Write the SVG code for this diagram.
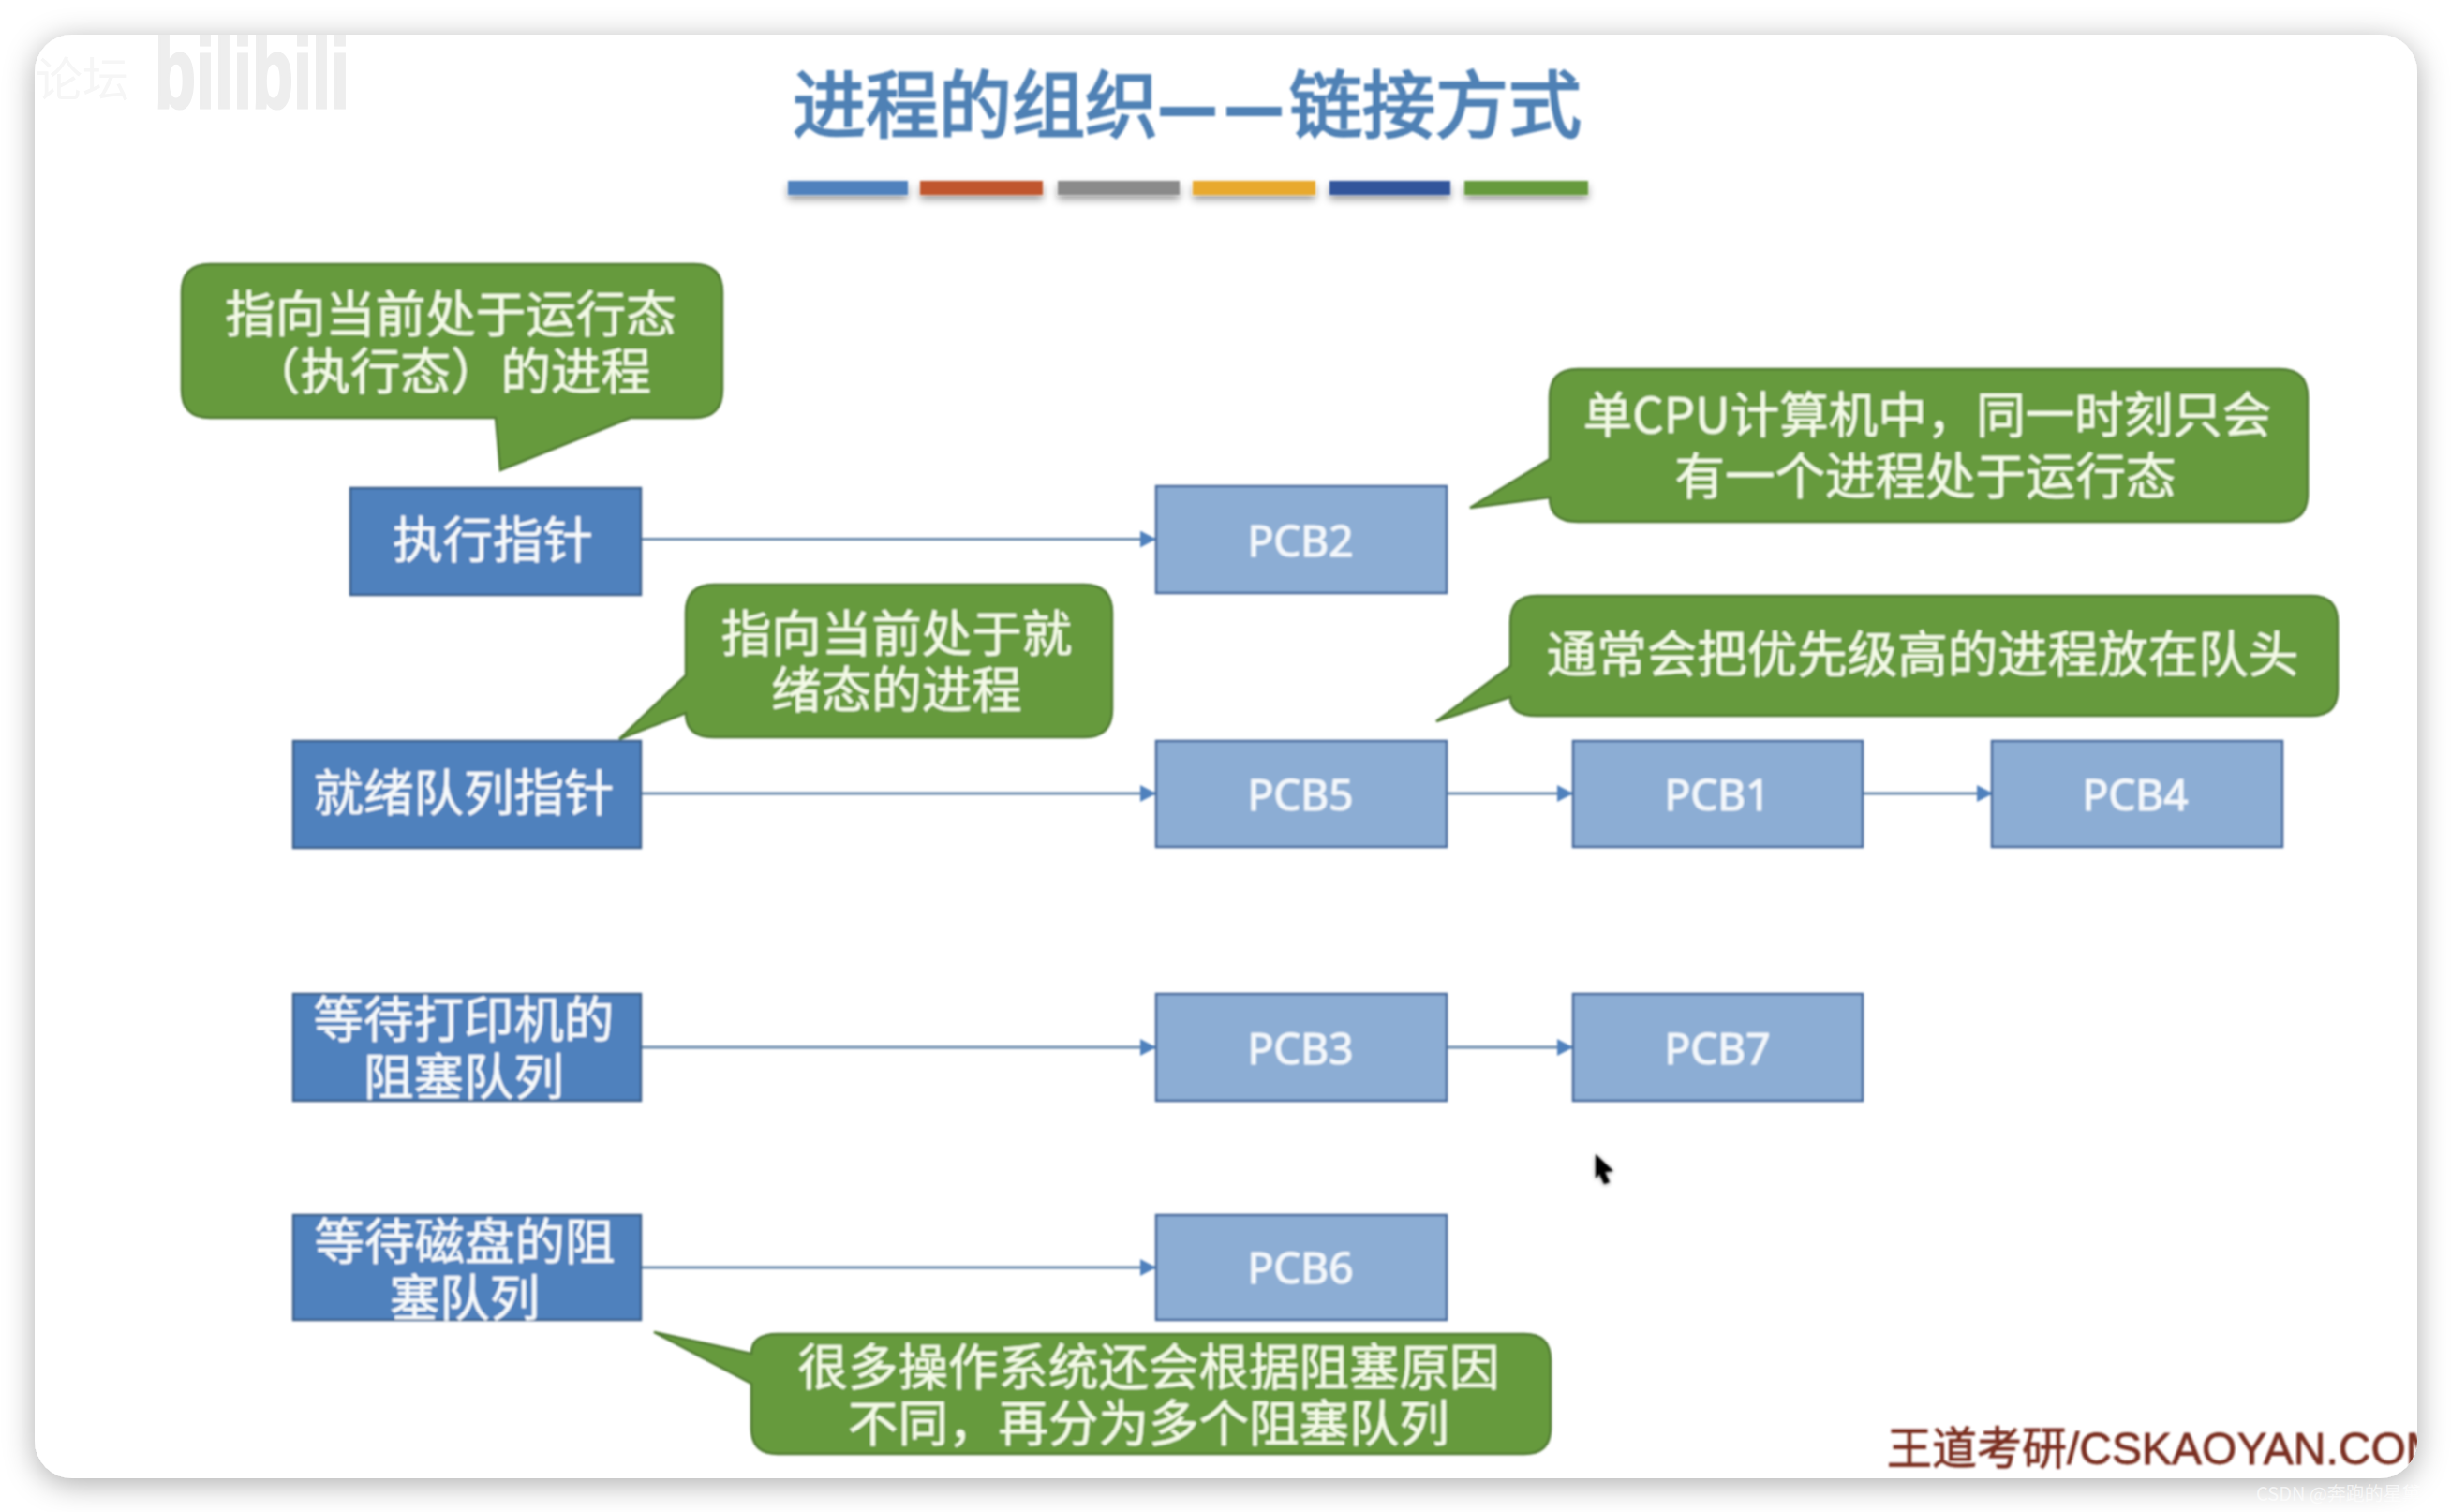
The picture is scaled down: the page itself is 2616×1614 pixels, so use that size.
<svg xmlns="http://www.w3.org/2000/svg" width="2616" height="1614" viewBox="0 0 2616 1614">
<style>
text{font-family:"Noto Sans CJK SC","Noto Sans",sans-serif;text-anchor:middle}
.ptr{fill:#4f81bd;stroke:#3a5f8a;stroke-width:2.5}
.pcb{fill:#8cadd4;stroke:#42669a;stroke-width:2.5}
.call{fill:#669a3c;stroke:#4f7a31;stroke-width:2.5}
.tw{fill:#f6f9fb;font-size:53.5px;stroke:#f6f9fb;stroke-width:.5}
.tg{fill:#f3fae6;font-size:53.5px;stroke:#f3fae6;stroke-width:.5}
.tp{fill:#f3f7fb;font-family:"Noto Sans",sans-serif;font-size:46px;stroke:#f3f7fb;stroke-width:1.1}
.tt{text-anchor:start;font-size:78px;fill:#4f81b5;stroke:#4f81b5;stroke-width:2.4}
.dash{font-size:66px;stroke-width:6}
.edge{stroke:#6d8cae;stroke-width:3;fill:none;marker-end:url(#arrow)}
.bar{filter:url(#barshadow)}
</style>
<defs>
<marker id="arrow" markerUnits="userSpaceOnUse" markerWidth="17" markerHeight="18" refX="17" refY="9" orient="auto"><path d="M0,0 L17,9 L0,18 Z" fill="#4f81bd"/></marker>
<filter id="panelshadow" x="-5%" y="-5%" width="110%" height="110%"><feDropShadow dx="0" dy="6" stdDeviation="16" flood-color="#000" flood-opacity=".32"/></filter>
<filter id="barshadow" x="-10%" y="-50%" width="120%" height="250%"><feDropShadow dx="0" dy="5" stdDeviation="4" flood-color="#000" flood-opacity=".4"/></filter>
<filter id="soft" x="0" y="0" width="2616" height="1614" filterUnits="userSpaceOnUse"><feGaussianBlur stdDeviation=".9"/></filter>
<filter id="halo" x="-50%" y="-50%" width="200%" height="200%"><feDropShadow dx="0" dy="1" stdDeviation="2" flood-color="#000" flood-opacity=".5"/></filter>
<clipPath id="panelclip"><rect x="37" y="37" width="2543" height="1541" rx="40"/></clipPath>
</defs>
<rect width="2616" height="1614" fill="#fff"/>
<rect id="panel" x="37" y="37" width="2543" height="1541" rx="40" fill="#fff" filter="url(#panelshadow)"/>
<text x="2408" y="1602" style="text-anchor:start;font-size:20px;fill:#fff;fill-opacity:.65">CSDN @奔跑的星黛</text>
<g clip-path="url(#panelclip)">
<g id="watermark">
<text x="269" y="115" textLength="208" lengthAdjust="spacingAndGlyphs" style="font-family:'Liberation Sans',sans-serif;font-weight:700;font-size:107px;fill:#eeeeee;stroke:#eeeeee;stroke-width:3">bilibili</text>
<text x="88" y="103" style="font-size:50px;fill:#f6f6f6">论坛</text>
</g>
<g filter="url(#soft)">
<g id="title">
<text class="tt" x="846" y="141">进程的组织</text>
<text class="tt dash" x="1238" y="138">—</text>
<text class="tt dash" x="1309" y="138">—</text>
<text class="tt" x="1376" y="141">链接方式</text>
<rect class="bar" x="841" y="193" width="128" height="15" fill="#4f81bd"/>
<rect class="bar" x="982" y="193" width="131" height="15" fill="#c0562f"/>
<rect class="bar" x="1129" y="193" width="130" height="15" fill="#8a8a8a"/>
<rect class="bar" x="1273" y="193" width="131" height="15" fill="#e8a92f"/>
<rect class="bar" x="1419" y="193" width="129" height="15" fill="#33549b"/>
<rect class="bar" x="1563" y="193" width="132" height="15" fill="#669a3c"/>
</g>
<g id="connectors">
<path class="edge" d="M685,575.5 H1234"/>
<path class="edge" d="M685,847 H1234"/>
<path class="edge" d="M1545,847 H1679"/>
<path class="edge" d="M1989,847 H2127"/>
<path class="edge" d="M685,1118 H1234"/>
<path class="edge" d="M1545,1118 H1679"/>
<path class="edge" d="M685,1353 H1234"/>
</g>
<g id="node-exec"><rect class="ptr" x="374" y="521" width="310" height="114"/><text class="tw" x="526" y="596">执行指针</text></g>
<g id="node-ready"><rect class="ptr" x="313" y="791" width="371" height="114"/><text class="tw" x="495" y="866">就绪队列指针</text></g>
<g id="node-printer"><rect class="ptr" x="313" y="1061" width="371" height="114"/><text class="tw" x="495" y="1108">等待打印机的<tspan x="495" dy="61">阻塞队列</tspan></text></g>
<g id="node-disk"><rect class="ptr" x="313" y="1297" width="371" height="112"/><text class="tw" x="496" y="1345">等待磁盘的阻<tspan x="496" dy="60">塞队列</tspan></text></g>
<g id="node-pcb2"><rect class="pcb" x="1234" y="519" width="310" height="114"/><text class="tp" x="1388" y="594">PCB2</text></g>
<g id="node-pcb5"><rect class="pcb" x="1234" y="791" width="310" height="113"/><text class="tp" x="1388" y="865">PCB5</text></g>
<g id="node-pcb1"><rect class="pcb" x="1679" y="791" width="309" height="113"/><text class="tp" x="1833" y="865">PCB1</text></g>
<g id="node-pcb4"><rect class="pcb" x="2126" y="791" width="310" height="113"/><text class="tp" x="2279" y="865">PCB4</text></g>
<g id="node-pcb3"><rect class="pcb" x="1234" y="1061" width="310" height="114"/><text class="tp" x="1388" y="1136">PCB3</text></g>
<g id="node-pcb7"><rect class="pcb" x="1679" y="1061" width="309" height="114"/><text class="tp" x="1833" y="1136">PCB7</text></g>
<g id="node-pcb6"><rect class="pcb" x="1234" y="1297" width="310" height="112"/><text class="tp" x="1388" y="1370">PCB6</text></g>
<g id="callout-running"><path class="call" d="M224,282 H741 Q771,282 771,312 V416 Q771,446 741,446 H673 L534,502 L529,446 H224 Q194,446 194,416 V312 Q194,282 224,282 Z"/><text class="tg" x="481" y="355">指向当前处于运行态<tspan x="481" dy="61">（执行态）的进程</tspan></text></g>
<g id="callout-cpu"><path class="call" d="M1684,394 H2433 Q2463,394 2463,424 V527 Q2463,557 2433,557 H1684 Q1654,557 1654,531 L1569,542 L1654,490 V424 Q1654,394 1684,394 Z"/><text class="tg" x="2057" y="462" style="font-size:52.5px">单CPU计算机中，同一时刻只会<tspan x="2055" dy="66" style="font-size:53.5px">有一个进程处于运行态</tspan></text></g>
<g id="callout-ready"><path class="call" d="M762,624 H1157 Q1187,624 1187,654 V757 Q1187,787 1157,787 H762 Q732,787 732,761 L661,789 L732,721 V654 Q732,624 762,624 Z"/><text class="tg" x="957" y="696">指向当前处于就<tspan x="957" dy="60">绪态的进程</tspan></text></g>
<g id="callout-head"><path class="call" d="M1640,636 H2467 Q2495,636 2495,664 V736 Q2495,764 2467,764 H1640 Q1612,764 1612,744 L1533,770 L1612,711 V664 Q1612,636 1640,636 Z"/><text class="tg" x="2052" y="718">通常会把优先级高的进程放在队头</text></g>
<g id="callout-block"><path class="call" d="M830,1424 H1627 Q1655,1424 1655,1452 V1524 Q1655,1552 1627,1552 H830 Q802,1552 802,1524 V1477 L698,1422 L802,1445 Q802,1424 830,1424 Z"/><text class="tg" x="1226" y="1479">很多操作系统还会根据阻塞原因<tspan x="1226" dy="60">不同，再分为多个阻塞队列</tspan></text></g>
<path id="cursor" d="M1703,1232 L1722,1250 L1713,1251 L1718,1262 L1712,1264 L1707,1253 L1703,1258 Z" fill="#000" filter="url(#halo)"/>
<text id="brand" x="2014" y="1563" style="text-anchor:start;font-family:'Liberation Sans','Noto Sans CJK SC',sans-serif;font-size:48px;fill:#7a2e20;stroke:#7a2e20;stroke-width:.8">王道考研/CSKAOYAN.COM</text>
</g>
</g>
</svg>
